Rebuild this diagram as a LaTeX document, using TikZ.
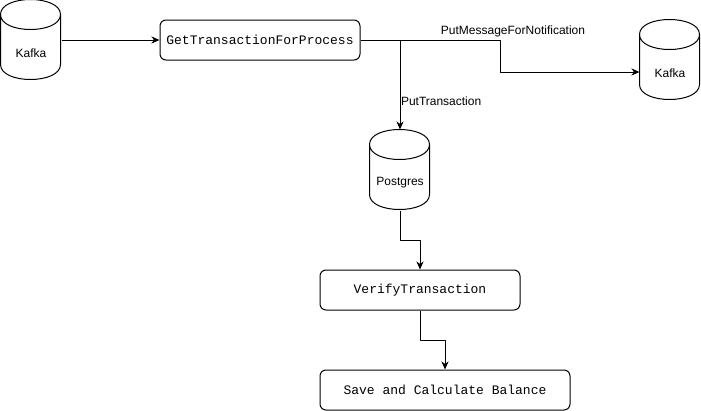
\documentclass[tikz,border=0pt]{standalone}
\usepackage{fontspec}
\usetikzlibrary{arrows.meta}
\setmainfont{Liberation Sans}
\newfontfamily\codefont{Liberation Mono}
\begin{document}
\begin{tikzpicture}[>={Stealth[length=6pt, width=5.25pt, inset=1.8pt]}, line join=round, x=.75pt, y=-.75pt, line width=.75pt,
	font=\fontsize{9}{11}\selectfont,
	db/.style={minimum width=45pt, minimum height=60pt, inner sep=0pt},
	dblabel/.style={yshift=-9.75pt, inner sep=0pt},
	call/.style={draw, rounded corners=4.5pt, minimum height=30pt, inner sep=0pt, font=\codefont\fontsize{9.75}{11}\selectfont},
	flowlabel/.style={inner sep=0pt}]
				\useasboundingbox (0,0) rectangle (701,411);
				\node[db, label={[dblabel]center:Kafka}] (kafkaA) at (31,40) {};
				\node[db, label={[dblabel]center:Kafka}] (kafkaB) at (670,60) {};
				\node[db, label={[dblabel]center:Postgres}] (pgDb) at (400,170) {};
				\node[call, minimum width=150pt] (getTx) at (260,40) {GetTransactionForProcess};
				\node[call, minimum width=150pt] (verify) at (420,290) {VerifyTransaction};
				\node[call, minimum width=187.5pt] (save) at (445,390) {Save and Calculate Balance};
				\path
				(400,40) coordinate (split)
				(500,72) coordinate (turn)
				;
				% cylinders
				\foreach \n in {kafkaA,kafkaB,pgDb} \draw[shift={(\n.north west)}]
				(0,15) .. controls (0,-5) and (60,-5) .. (60,15) -- (60,65)
				.. controls (60,85) and (0,85) .. (0,65) -- cycle
				(0,15) .. controls (0,35) and (60,35) .. (60,15);
				\draw[->] (kafkaA.east) -- (getTx.west);
				\draw[->] (getTx.east) -| (turn) -- (turn -| kafkaB.west);
				\draw[->] (split) -- (pgDb.north);
				\draw[->] (pgDb.south) -- ++(0,30) -| (verify.north);
				\draw[->] (verify.south) -- ++(0,30) -| (save.north);
				\node[flowlabel] (msgLabel) at (513,31) {PutMessageForNotification};
				\node[flowlabel, anchor=west] (txLabel) at (400.5,101) {PutTransaction};
			\end{tikzpicture}
\end{document}
